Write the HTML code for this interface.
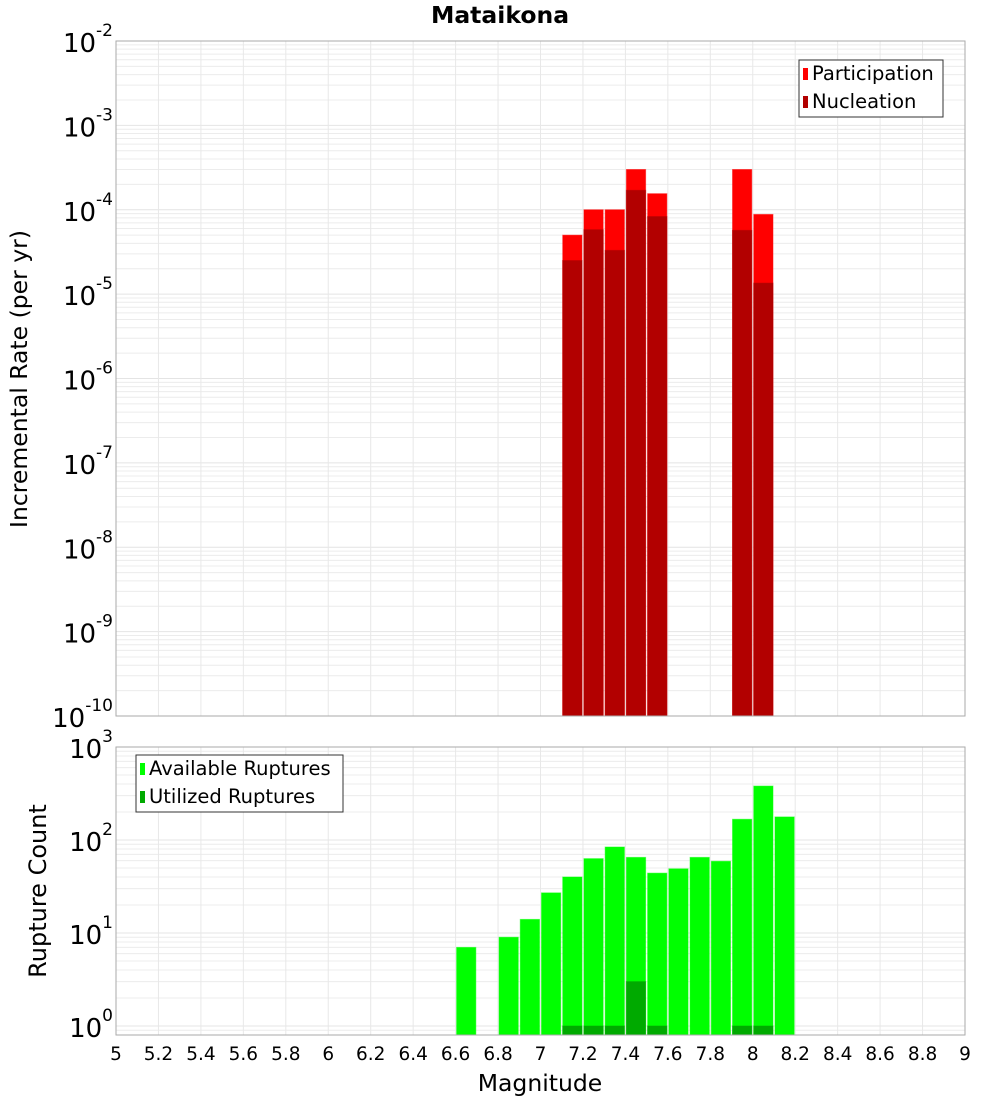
<!DOCTYPE html>
<html><head><meta charset="utf-8"><style>
body{margin:0;background:#fff}
svg{display:block;font-family:"DejaVu Sans","Liberation Sans",sans-serif}
</style></head><body>
<svg id="c" width="1000" height="1100" xmlns="http://www.w3.org/2000/svg">
<text x="500" y="23" text-anchor="middle" font-weight="bold" font-size="23.5">Mataikona</text>
<text transform="translate(27,379) rotate(-90)" text-anchor="middle" font-size="23.5">Incremental Rate (per yr)</text>
<text transform="translate(46,891) rotate(-90)" text-anchor="middle" font-size="24">Rupture Count</text>
<text x="540" y="1091" text-anchor="middle" font-size="23.5">Magnitude</text>
<g id="top"></g><g id="bot"></g>
</svg>
<script>
const mags = [6.65,6.75,6.85,6.95,7.05,7.15,7.25,7.35,7.45,7.55,7.65,7.75,7.85,7.95,8.05,8.15];
const participation = [0,0,0,0,0,5.0e-5,1.0e-4,1.0e-4,3.0e-4,1.55e-4,0,0,0,3.0e-4,8.8e-5,0];
const nucleation = [0,0,0,0,0,2.5e-5,5.8e-5,3.3e-5,1.7e-4,8.3e-5,0,0,0,5.7e-5,1.35e-5,0];
const available = [7,0,9,14,27,40,63,84,65,44,49,65,59,167,380,177];
const utilized = [0,0,0,0,0,1,1,1,3,1,0,0,0,1,1,0];
const xTicks = [5,5.2,5.4,5.6,5.8,6,6.2,6.4,6.6,6.8,7,7.2,7.4,7.6,7.8,8,8.2,8.4,8.6,8.8,9];
const topExps = [-2,-3,-4,-5,-6,-7,-8,-9,-10];
const botExps = [3,2,1,0];

const NS="http://www.w3.org/2000/svg";
const X0=116,X1=965;
const xs=m=>X0+(m-5)*(X1-X0)/4;
function mk(p,t,a){const e=document.createElementNS(NS,t);for(const k in a)e.setAttribute(k,a[k]);p.appendChild(e);return e;}
function panel(g,top,bot,ymaxExp,yminLog,name){
  const ys=v=>top+(ymaxExp-Math.log10(v))*(bot-top)/(ymaxExp-yminLog);
  const r=mk(g,'rect',{x:X0,y:top,width:X1-X0,height:bot-top,fill:'#fff'});
  
  
  for(let e=Math.floor(yminLog);e<ymaxExp;e++)for(let k=1;k<10;k++){
    const v=k*Math.pow(10,e);if(Math.log10(v)<yminLog)continue;const y=ys(v);
    const l=mk(g,'line',{x1:X0,x2:X1,y1:y,y2:y,stroke:k==1?'#e4e4e4':'#ececec','stroke-width':1});
    
    
  }
  xTicks.forEach(t=>{const l=mk(g,'line',{x1:xs(t),x2:xs(t),y1:top,y2:bot,stroke:'#e8e8e8'});
    
    });
  return ys;
}
const gt=document.getElementById('top'),gb=document.getElementById('bot');
const ysT=panel(gt,41,716,-2,-10,'top');
const ysB=panel(gb,747,1035,3,-0.097,'bottom');
const bw=(X1-X0)/40;
function bars(g,arr,ys,base,color,name){
  mags.forEach((m,i)=>{const v=arr[i];if(!v)return;const y=ys(v);
    const b=mk(g,'rect',{x:xs(m)-bw/2+1,y:y,width:bw-2,height:base-y,fill:color,stroke:color,'stroke-opacity':0.5});
    
    });
}
bars(gt,participation,ysT,716,'#ff0000','participation');
bars(gt,nucleation,ysT,716,'#b20000','nucleation');
bars(gb,available,ysB,1035,'#00ff00','available');
bars(gb,utilized,ysB,1035,'#00aa00','utilized');
[[41,716,'top'],[747,1035,'bottom']].forEach(([a,b,n])=>{const f=mk(n=='top'?gt:gb,'rect',{x:X0,y:a,width:X1-X0,height:b-a,fill:'none',stroke:'#aaa'});
  
  });
function ylab(g,e,y,name){
  const t=mk(g,'text',{x:113,y:y+11,'text-anchor':'end','font-size':26});
  
  
  t.appendChild(document.createTextNode('10'));
  const s=mk(t,'tspan',{dy:-16,'font-size':17});s.textContent=e;
}
topExps.forEach(e=>ylab(gt,e,ysT(Math.pow(10,e)),'top'));
botExps.forEach(e=>ylab(gb,e,ysB(Math.pow(10,e)),'bottom'));
xTicks.forEach(t=>{const l=mk(gb,'text',{x:xs(t),y:1060,'text-anchor':'middle','font-size':18.5});l.textContent=String(t);
  
  });
function legend(g,x,y,w,items,name){
  const lg=mk(g,'g',{});
  
  
  mk(lg,'rect',{x:x,y:y,width:w,height:57,fill:'#fff',stroke:'#333'});
  items.forEach(([c,l],i)=>{mk(lg,'rect',{x:x+4,y:y+8+i*28,width:5,height:12,fill:c});
    const t=mk(lg,'text',{x:x+13,y:y+20+i*28,'font-size':19.5});t.textContent=l;});
}
legend(gt,799,60,144,[['#ff0000','Participation'],['#b20000','Nucleation']],'top-legend');
legend(gb,136,755,207,[['#00ff00','Available Ruptures'],['#00aa00','Utilized Ruptures']],'bottom-legend');
</script>
</body></html>
